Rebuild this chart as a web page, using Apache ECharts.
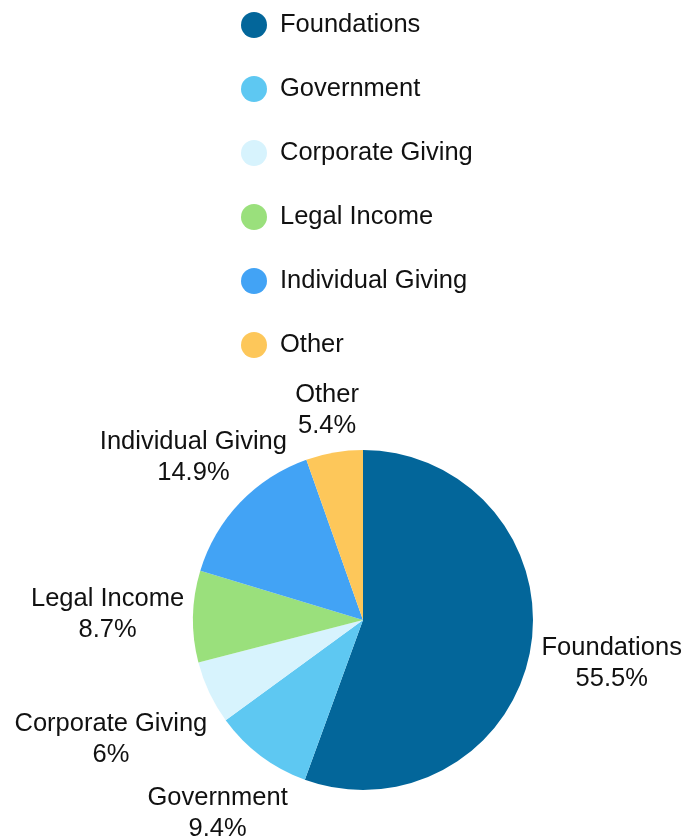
<!DOCTYPE html>
<html>
<head>
<meta charset="utf-8">
<script src="https://cdn.jsdelivr.net/npm/echarts@6/dist/echarts.min.js"></script>
<style>
html,body{margin:0;padding:0;background:#fff;}
#main{width:685px;height:837px;}
</style>
</head>
<body>
<div id="main"></div>
<script>
const categories = ['Foundations', 'Government', 'Corporate Giving', 'Legal Income', 'Individual Giving', 'Other'];
const values = [55.5, 9.4, 6, 8.7, 14.9, 5.4];
const colors = ['#03669A', '#5EC8F2', '#D7F3FD', '#9AE07C', '#42A3F5', '#FDC75A'];

const FONT_FAMILY = '"Liberation Sans", Arial, Helvetica, sans-serif';
const FONT_SIZE = 25.5;
const LINE_H = 31;
const CX = 363, CY = 620, R = 170, GAP = 9;

const measureCtx = document.createElement('canvas').getContext('2d');
measureCtx.font = FONT_SIZE + 'px ' + FONT_FAMILY;

function labelText(i) { return [categories[i], values[i] + '%']; }

function placeLabel(i) {
  const total = values.reduce((a, b) => a + b, 0);
  let cum = 0;
  for (let k = 0; k < i; k++) cum += values[k];
  const mid = (cum + values[i] / 2) / total * Math.PI * 2;
  const ux = Math.sin(mid), uy = -Math.cos(mid);
  const lines = labelText(i);
  const widths = lines.map(t => measureCtx.measureText(t).width);
  const n = lines.length;
  function minDist(d) {
    const cx = d * ux, cy = d * uy;
    let m = Infinity;
    for (let j = 0; j < n; j++) {
      const x0 = cx - widths[j] / 2, x1 = cx + widths[j] / 2;
      const y0 = cy - n * LINE_H / 2 + j * LINE_H, y1 = y0 + LINE_H;
      const px = Math.min(Math.max(0, x0), x1);
      const py = Math.min(Math.max(0, y0), y1);
      m = Math.min(m, Math.hypot(px, py));
    }
    return m;
  }
  let lo = 0, hi = R + 400;
  for (let it = 0; it < 40; it++) {
    const md = (lo + hi) / 2;
    if (minDist(md) >= R + GAP) hi = md; else lo = md;
  }
  return { x: CX + hi * ux, y: CY + hi * uy };
}

const chart = echarts.init(document.getElementById('main'), null, { renderer: 'canvas' });
chart.setOption({
  animation: false,
  backgroundColor: '#ffffff',
  color: colors,
  legend: {
    orient: 'vertical',
    left: 236,
    top: 7,
    icon: 'circle',
    itemWidth: 26,
    itemHeight: 26,
    itemGap: 38,
    textStyle: { fontFamily: FONT_FAMILY, fontSize: FONT_SIZE, color: '#111', lineHeight: 26, padding: [0, 0, 0, 8] },
    data: categories
  },
  series: [{
    type: 'pie',
    center: [CX, CY],
    radius: R,
    startAngle: 90,
    clockwise: true,
    avoidLabelOverlap: false,
    itemStyle: { borderWidth: 0 },
    emphasis: { disabled: true },
    label: {
      show: true,
      position: 'outside',
      fontFamily: FONT_FAMILY,
      fontSize: FONT_SIZE,
      lineHeight: LINE_H,
      color: '#111',
      align: 'center',
      formatter: p => labelText(p.dataIndex).join('\n')
    },
    labelLine: { show: false },
    labelLayout: function (params) {
      const pos = placeLabel(params.dataIndex);
      return { x: pos.x, y: pos.y, align: 'center', verticalAlign: 'middle' };
    },
    data: categories.map((c, i) => ({ name: c, value: values[i] }))
  }]
});
</script>
</body>
</html>
